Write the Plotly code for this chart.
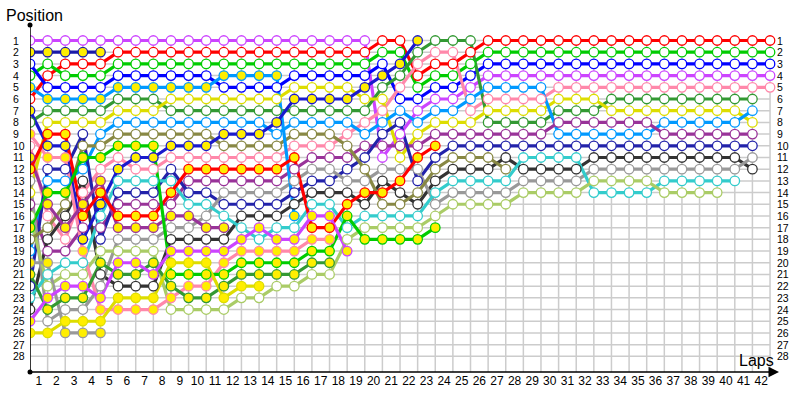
import plotly.graph_objects as go

# ---------------- data ----------------
# column 0 = starting grid, column n = end of lap n
lap_labels = ["1", "2", "3", "4", "5", "6", "7", "8", "9", "10", "11", "12", "13", "14",
              "15", "16", "17", "18", "19", "20", "21", "22", "23", "24", "25", "26", "27",
              "28", "29", "30", "31", "32", "33", "34", "35", "36", "37", "38", "39", "40",
              "41", "42"]
position_labels = ["1", "2", "3", "4", "5", "6", "7", "8", "9", "10", "11", "12", "13", "14",
                   "15", "16", "17", "18", "19", "20", "21", "22", "23", "24", "25", "26",
                   "27", "28"]

violet_w = [1, 1, 1, 1, 1, 1, 1, 1, 1, 1, 1, 1, 1, 1, 1, 1, 1, 1, 1, 1, 11, 9, 7, 6, 6, 5,
            4, 4, 4, 4, 4, 4, 4, 4, 4, 4, 4, 4, 4, 4, 4, 4, 4]
red_w = [6, 4, 3, 3, 3, 2, 2, 2, 2, 2, 2, 2, 2, 2, 2, 2, 2, 2, 2, 2, 1, 1, 4, 3, 3, 2,
         1, 1, 1, 1, 1, 1, 1, 1, 1, 1, 1, 1, 1, 1, 1, 1, 1]
green_w = [4, 3, 4, 4, 4, 3, 3, 3, 3, 3, 3, 3, 3, 3, 3, 3, 3, 3, 3, 3, 2, 2, 5, 4, 4, 3,
           2, 2, 2, 2, 2, 2, 2, 2, 2, 2, 2, 2, 2, 2, 2, 2, 2]
blue_w = [3, 5, 5, 5, 5, 4, 4, 4, 4, 4, 4, 5, 5, 5, 5, 4, 4, 4, 4, 4, 3, 6, 6, 5, 5, 4,
          3, 3, 3, 3, 3, 3, 3, 3, 3, 3, 3, 3, 3, 3, 3, 3, 3]
pink_w = [10, 16, 18, 14, 12, 11, 12, 12, 11, 11, 11, 11, 11, 11, 11, 10, 10, 10, 9, 8, 7, 5,
          3, 2, 2, 7, 6, 6, 6, 6, 5, 5, 5, 5, 5, 5, 5, 5, 5, 5, 5, 5, 5]
dkgreen_w = [8, 7, 7, 7, 7, 6, 6, 6, 7, 7, 7, 7, 7, 7, 7, 7, 7, 7, 7, 7, 5, 4, 2, 1, 1, 1,
             8, 8, 8, 8, 7, 7, 7, 6, 6, 6, 6, 6, 6, 6, 6, 6]
yellow_w = [14, 8, 8, 8, 8, 7, 7, 7, 6, 6, 6, 6, 6, 6, 6, 5, 5, 5, 5, 6, 6, 11, 9, 8, 8, 8,
            7, 7, 7, 7, 6, 6, 6, 7, 7, 7, 7, 7, 7, 7, 7, 8]
lblue_w = [19, 13, 13, 12, 9, 8, 8, 8, 8, 8, 8, 8, 8, 8, 9, 8, 8, 8, 8, 9, 8, 7, 8, 7, 7, 6,
           5, 5, 5, 5, 9, 9, 9, 9, 9, 9, 8, 8, 8, 8, 8, 7]
purple_w = [15, 19, 19, 17, 17, 15, 15, 15, 15, 13, 13, 13, 13, 13, 13, 12, 11, 11, 11, 10,
            10, 10, 10, 9, 9, 9, 9, 9, 9, 9, 8, 8, 8, 8, 8, 8, 9, 9, 9, 9, 9, 9]
navy_w = [22, 12, 12, 9, 18, 14, 14, 14, 12, 14, 14, 15, 15, 15, 15, 14, 13, 13, 12, 11, 9, 8,
          13, 11, 10, 10, 10, 10, 10, 10, 10, 10, 10, 10, 10, 10, 10, 10, 10, 10, 10, 10]
dkgray_w = [24, 18, 16, 13, 21, 22, 22, 22, 18, 18, 18, 18, 16, 16, 16, 15, 14, 14, 14, 15, 13,
            14, 15, 13, 12, 12, 12, 11, 12, 12, 12, 12, 11, 11, 11, 11, 11, 11, 11, 11, 11, 12]
gray_w = [13, 25, 24, 24, 22, 18, 18, 18, 17, 17, 16, 14, 14, 14, 14, 13, 12, 12, 13, 13, 12,
          12, 12, 15, 14, 14, 14, 14, 13, 13, 13, 13, 12, 12, 12, 12, 12, 12, 12, 12, 12, 11]
cyan_w = [23, 21, 20, 20, 16, 13, 13, 13, 13, 15, 15, 16, 17, 18, 17, 17, 15, 15, 17, 16, 16,
          16, 16, 14, 13, 13, 13, 13, 11, 11, 11, 11, 14, 14, 14, 14, 13, 13, 13, 13, 13]
ygreen_w = [16, 22, 21, 21, 19, 19, 19, 19, 24, 24, 24, 24, 23, 23, 22, 22, 21, 21, 18, 17, 17,
            17, 17, 16, 15, 15, 15, 15, 14, 14, 14, 14, 13, 13, 13, 13, 14, 14, 14, 14]
olive_w = [18, 17, 15, 10, 10, 9, 9, 9, 9, 9, 9, 10, 10, 10, 10, 9, 9, 9, 10, 12, 15, 15, 14,
           12, 11, 11, 11, 12]
navy_y = [2, 2, 2, 2, 2]
lblue_y = [5, 6, 6, 6, 6, 5, 5, 5, 5, 5, 5, 4, 4, 4, 4, 16]
blue_y = [7, 10, 10, 18, 15, 12, 11, 11, 10, 10, 10, 9, 9, 9, 8, 6, 6, 6, 6, 5, 4, 3, 1]
pink_y = [9, 11, 11, 19, 24, 24, 24, 24, 23, 22, 22, 20, 19, 19, 19, 19, 18, 18]
purple_y = [11, 15, 17, 15, 13, 17, 17, 17, 16, 16, 17, 17]
red_y = [12, 9, 9, 16, 14, 16, 16, 16, 14, 12, 12, 12, 12, 12, 12, 11, 17, 17, 15, 14, 14, 13,
         11, 10]
green_y = [17, 14, 14, 11, 11, 10, 10, 10, 21, 21, 21, 21, 20, 20, 20, 20, 19, 19, 16, 18, 18,
           18, 18, 17]
gray_y = [20, 20, 26, 26, 26]
dkgreen_y = [21, 24, 23, 23, 20, 21, 21, 20, 22, 23, 23, 22, 21, 21, 21, 21, 20, 20]
violet_y = [25, 23, 22, 22, 23, 20, 20, 21, 19, 19, 19, 19, 18, 17, 18, 18, 16, 16, 19]
yellow_y = [26, 26, 25, 25, 25, 23, 23, 23, 20, 20, 20, 23, 22, 22]

# ---------------- styles ----------------
WHITE = "#ffffff"
FILLY = "#ffee00"
series = [
    (violet_w, "#cc44ff", WHITE), (red_w, "#ff0000", WHITE), (green_w, "#00cc00", WHITE),
    (blue_w, "#0000ff", WHITE), (pink_w, "#ff88aa", WHITE), (dkgreen_w, "#339933", WHITE),
    (yellow_w, "#dddd00", WHITE), (lblue_w, "#0099ff", WHITE), (purple_w, "#993399", WHITE),
    (navy_w, "#2222aa", WHITE), (dkgray_w, "#333333", WHITE), (gray_w, "#999999", WHITE),
    (cyan_w, "#33cccc", WHITE), (ygreen_w, "#aacc66", WHITE), (olive_w, "#888844", WHITE),
    (navy_y, "#1a1aa8", FILLY), (lblue_y, "#0099ff", FILLY), (blue_y, "#1a1acc", FILLY),
    (pink_y, "#ff88aa", FILLY), (purple_y, "#993399", FILLY), (red_y, "#ff0000", FILLY),
    (green_y, "#00cc00", FILLY), (gray_y, "#999999", FILLY), (dkgreen_y, "#339933", FILLY),
    (violet_y, "#cc44ff", FILLY), (yellow_y, "#dddd00", FILLY),
]

FONT = "Liberation Sans, Arial, sans-serif"
PLOT_L, PLOT_R, PLOT_T, PLOT_B = 30, 780, 25, 376
COL_PX = 17.62
X_MAX = (PLOT_R - PLOT_L) / COL_PX
Y_TOP = -0.327
Y_BOT = 29.34
PW = PLOT_R - PLOT_L
PH = PLOT_B - PLOT_T

fig = go.Figure()

# lines first (under every marker)
for vals, col, fill in series:
    fig.add_trace(go.Scatter(x=list(range(len(vals))), y=vals, mode="lines",
                             line=dict(color=col, width=3.2), hoverinfo="skip"))
for vals, col, fill in series:
    fig.add_trace(go.Scatter(x=list(range(len(vals))), y=vals, mode="markers",
                             marker=dict(size=9.5, color=fill, line=dict(color=col, width=1.3))))

# axis end dots
fig.add_trace(go.Scatter(x=[0, 0], y=[Y_TOP, Y_BOT], mode="markers", cliponaxis=False,
                         marker=dict(size=5, color="black"), hoverinfo="skip"))

shapes = []
n_cols = len(lap_labels) + 1
for c in range(n_cols):
    shapes.append(dict(type="line", xref="x", yref="y", x0=c, x1=c, y0=1, y1=Y_BOT,
                       line=dict(color="#cccccc", width=1.5), layer="below"))
for p in range(1, len(position_labels) + 1):
    shapes.append(dict(type="line", xref="x", yref="y", x0=0, x1=n_cols - 1, y0=p, y1=p,
                       line=dict(color="#cccccc", width=1.5), layer="below"))
shapes.append(dict(type="line", xref="x", yref="y", x0=0, x1=0, y0=Y_TOP, y1=Y_BOT,
                   line=dict(color="black", width=1.5)))

annotations = [
    dict(x=(779 - PLOT_L) / PW, y=0, xref="paper", yref="paper", ax=-(779 - PLOT_L), ay=0,
         showarrow=True, arrowhead=2, arrowsize=1.4, arrowwidth=1.5, arrowcolor="black",
         text=""),
    dict(x=(4 - PLOT_L) / PW, y=1 + 10 / PH, xref="paper", yref="paper", xanchor="left",
         yanchor="middle", text="Position", showarrow=False,
         font=dict(family=FONT, size=16, color="black")),
    dict(x=(776 - PLOT_L) / PW, y=12 / PH, xref="paper", yref="paper", xanchor="right",
         yanchor="middle", text="Laps", showarrow=False,
         font=dict(family=FONT, size=16, color="black")),
]
for i, lab in enumerate(position_labels):
    p = i + 1
    annotations.append(dict(x=(11 - PLOT_L) / PW, y=p, xref="paper", yref="y", xanchor="left",
                            yanchor="middle", text=lab, showarrow=False,
                            font=dict(family=FONT, size=10.5, color="black")))
    annotations.append(dict(x=n_cols - 1, y=p, xref="x", yref="y", xanchor="left", xshift=5,
                            yanchor="middle", text=lab, showarrow=False,
                            font=dict(family=FONT, size=10.5, color="black")))

fig.update_layout(
    width=800, height=400,
    margin=dict(l=PLOT_L, r=800 - PLOT_R, t=PLOT_T, b=400 - PLOT_B),
    plot_bgcolor="white", paper_bgcolor="white", showlegend=False,
    shapes=shapes, annotations=annotations, hovermode=False,
    xaxis=dict(range=[0, X_MAX], tickvals=[i + 0.5 for i in range(len(lap_labels))],
               ticktext=lap_labels, showgrid=False, zeroline=False, showline=False, ticks="",
               tickfont=dict(family=FONT, size=12, color="black"), fixedrange=True),
    yaxis=dict(range=[Y_BOT, Y_TOP], showgrid=False, zeroline=False, showline=False,
               showticklabels=False, ticks="", fixedrange=True),
)

fig.write_html("out.html", config={"displayModeBar": False, "staticPlot": True},
               post_script="document.body.style.margin='0px';")
